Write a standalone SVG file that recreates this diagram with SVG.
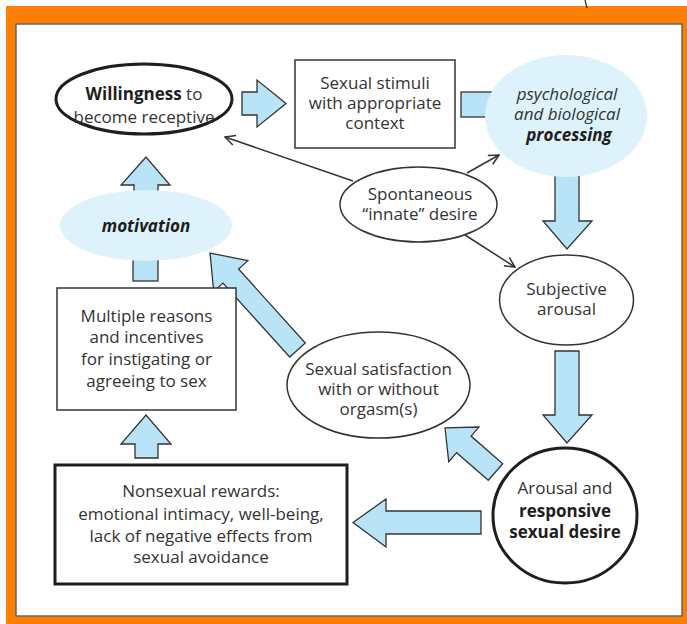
<svg xmlns="http://www.w3.org/2000/svg" width="687" height="624" viewBox="0 0 687 624">
<defs>
<style>
text{font-family:"Open Sans","Liberation Sans",sans-serif;font-size:17px;fill:#333;text-anchor:middle}
.b{font-weight:bold;fill:#1e1e1e}
.i{font-style:italic}
.blk{fill:#b9e3f6;stroke:#333;stroke-width:1.3;stroke-linejoin:miter}
.node{fill:#fff;stroke:#333;stroke-width:1.5}
.thick{fill:#fff;stroke:#1e1e1e;stroke-width:3}
.soft{fill:#ddf2fb;stroke:none}
.ln{fill:none;stroke:#333;stroke-width:1.5}
</style>
<marker id="open" viewBox="0 0 12 12" refX="11" refY="6" markerWidth="12" markerHeight="12" markerUnits="userSpaceOnUse" orient="auto">
<path d="M1,1 L11,6 L1,11" fill="none" stroke="#333" stroke-width="1.5"/>
</marker>
</defs>
<rect x="6" y="6" width="681" height="618" fill="#fc7f04"/>
<rect x="16" y="24" width="666" height="592" fill="#fff" stroke="#666" stroke-width="1.5"/>
<line x1="585" y1="0" x2="587" y2="8" stroke="#222" stroke-width="1.2"/>
<g id="connectors">
<path class="blk" d="M242,92 L257,92 L257,80 L286,103.5 L257,127 L257,115 L242,115 Z"/>
<rect class="blk" x="461" y="92" width="45" height="25"/>
<path class="blk" d="M555,165 L579,165 L579,221 L592,221 L567,249 L543,221 L555,221 Z"/>
<path class="blk" d="M555,351 L579,351 L579,415 L592,415 L567,443 L543,415 L555,415 Z"/>
<path class="blk" d="M481,511 L386,511 L386,499 L353,522.5 L386,547 L386,534 L481,534 Z"/>
<path class="blk" d="M135,458 L135,444 L121,444 L146,415 L171,444 L158,444 L158,458 Z"/>
<path class="blk" d="M134,205 L134,185 L121,185 L146,157 L170,185 L158,185 L158,205 Z"/>
<rect class="blk" x="133" y="240" width="25" height="41"/>
<polygon class="blk" transform="translate(297.5,350) rotate(-132.05)" points="0,-10.5 99.6,-10.5 99.6,-23 130.6,0 99.6,23 99.6,10.5 0,10.5"/>
<polygon class="blk" transform="translate(495.5,472) rotate(-138.9)" points="0,-11 42,-11 42,-23 67,0 42,23 42,11 0,11"/>
<line class="ln" x1="353" y1="181" x2="225" y2="137" marker-end="url(#open)"/>
<line class="ln" x1="467" y1="173" x2="499" y2="155" marker-end="url(#open)"/>
<line class="ln" x1="465" y1="235" x2="515" y2="267" marker-end="url(#open)"/>
</g>
<g id="willingness">
<ellipse class="thick" cx="144" cy="99" rx="88" ry="35"/>
<text x="144" y="100"><tspan class="b">Willingness</tspan> to</text>
<text x="144" y="123">become receptive</text>
</g>
<g id="stimuli">
<rect class="node" x="295" y="60" width="160" height="88"/>
<text x="375" y="89">Sexual stimuli</text>
<text x="375" y="109">with appropriate</text>
<text x="375" y="129">context</text>
</g>
<g id="processing">
<ellipse class="soft" cx="566" cy="116" rx="81" ry="61"/>
<text class="i" x="567" y="100">psychological</text>
<text class="i" x="567" y="120">and biological</text>
<text class="i b" x="569" y="141">processing</text>
</g>
<g id="spontaneous">
<ellipse class="node" cx="418.5" cy="204.5" rx="78.5" ry="37.5"/>
<text x="420" y="200">Spontaneous</text>
<text x="420" y="220">“innate” desire</text>
</g>
<g id="subjective">
<ellipse class="node" cx="566.5" cy="300" rx="67" ry="45"/>
<text x="566.5" y="295">Subjective</text>
<text x="566.5" y="315">arousal</text>
</g>
<g id="motivation">
<ellipse class="soft" cx="146" cy="225.5" rx="86" ry="35.5"/>
<text class="i b" x="146" y="232">motivation</text>
</g>
<g id="reasons">
<rect class="node" x="57" y="288" width="179" height="122"/>
<text x="146.5" y="322">Multiple reasons</text>
<text x="146.5" y="343">and incentives</text>
<text x="146.5" y="365">for instigating or</text>
<text x="146.5" y="387">agreeing to sex</text>
</g>
<g id="satisfaction">
<ellipse class="node" cx="378.5" cy="385" rx="91.5" ry="53"/>
<text x="378.5" y="375">Sexual satisfaction</text>
<text x="378.5" y="395">with or without</text>
<text x="378.5" y="415">orgasm(s)</text>
</g>
<g id="arousal">
<ellipse class="thick" cx="565" cy="515.5" rx="72" ry="67.5"/>
<text x="565" y="494">Arousal and</text>
<text class="b" x="565" y="517">responsive</text>
<text class="b" x="565" y="538">sexual desire</text>
</g>
<g id="rewards">
<rect class="thick" x="55" y="465" width="292" height="119"/>
<text x="201" y="497">Nonsexual rewards:</text>
<text x="201" y="520">emotional intimacy, well-being,</text>
<text x="201" y="542">lack of negative effects from</text>
<text x="201" y="563">sexual avoidance</text>
</g>
</svg>
